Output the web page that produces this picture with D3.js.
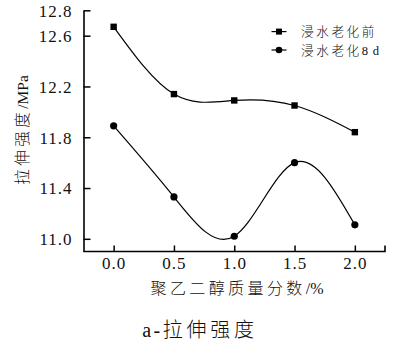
<!DOCTYPE html>
<html>
<head>
<meta charset="utf-8">
<script src="https://cdn.jsdelivr.net/npm/d3@7"></script>
<style>
  html, body { margin: 0; padding: 0; background: #fff; }
  svg { display: block; }
  text { font-family: "Liberation Serif", "Noto Sans CJK SC", serif; fill: #111; }
  .cjk { font-family: "Noto Sans CJK SC", sans-serif; font-weight: 300; }
  .lat { font-family: "Liberation Serif", serif; }
</style>
</head>
<body>
<svg id="chart" width="412" height="358"></svg>
<script>
// ---- data ----
const categories = [0.0, 0.5, 1.0, 1.5, 2.0];
const seriesNames = ["浸水老化前", "浸水老化8 d"];
const seriesBefore = [12.67, 12.14, 12.09, 12.05, 11.84];
const seriesAfter8d = [11.89, 11.33, 11.02, 11.60, 11.11];
const xTickValues = [0.0, 0.5, 1.0, 1.5, 2.0];
const xTickLabels = ["0.0", "0.5", "1.0", "1.5", "2.0"];
const yTickValues = [11.0, 11.4, 11.8, 12.2, 12.6, 12.8];
const yTickLabels = ["11.0", "11.4", "11.8", "12.2", "12.6", "12.8"];
const xTitle = "聚乙二醇质量分数/%";
const yTitle = "拉伸强度/MPa";
const caption = "a-拉伸强度";

// ---- helpers ----
// split text into CJK / Latin runs, with letter spacing only for CJK runs
function richText(sel, str, cjkSpacing, latSpacing) {
  const runs = str.match(/[\u3000-\u9fff]+|[^\u3000-\u9fff]+/g) || [];
  runs.forEach(r => {
    const isCjk = /[\u3000-\u9fff]/.test(r);
    sel.append("tspan").attr("class", isCjk ? "cjk" : "lat")
      .style("letter-spacing", (isCjk ? cjkSpacing : latSpacing) + "px").text(r);
  });
  return sel;
}

// ---- layout ----
const svg = d3.select("#chart");
const x = d3.scaleLinear().domain([-0.25, 2.25]).range([83.5, 385]);
const y = d3.scaleLinear().domain([10.9, 12.8]).range([251.5, 10.3]);

// axes
const xAxis = d3.axisBottom(x).tickValues(xTickValues)
  .tickFormat((d, i) => xTickLabels[i]).tickSizeInner(-6).tickSizeOuter(-6).tickPadding(5);
const yAxis = d3.axisLeft(y).tickValues(yTickValues)
  .tickFormat((d, i) => yTickLabels[i]).tickSizeInner(-7).tickSizeOuter(0).tickPadding(11);

const gx = svg.append("g").attr("transform", `translate(0,${y.range()[0]})`).call(xAxis);
const gy = svg.append("g").attr("transform", `translate(${x.range()[0]},0)`).call(yAxis);

[gx, gy].forEach(g => {
  g.select(".domain").attr("stroke", "#000").attr("stroke-width", 1.6);
  g.selectAll(".tick line").attr("stroke", "#000").attr("stroke-width", 1.5);
  g.selectAll(".tick text").attr("fill", "#111")
    .style("font-family", "'Liberation Serif', serif").style("font-size", "17px")
    .style("letter-spacing", "1px");
});
gy.selectAll(".tick text").attr("dy", "0.34em");
gx.select(".domain").attr("d", `M${x.range()[0]},0H${x.range()[1]}V-6`);

// lines
const line = d3.line().x((d, i) => x(categories[i])).y(d => y(d)).curve(d3.curveNatural);
svg.append("path").datum(seriesBefore).attr("d", line)
  .attr("fill", "none").attr("stroke", "#000").attr("stroke-width", 1.2);
svg.append("path").datum(seriesAfter8d).attr("d", line)
  .attr("fill", "none").attr("stroke", "#000").attr("stroke-width", 1.2);

// markers
svg.append("g").selectAll("rect").data(seriesBefore).join("rect")
  .attr("x", (d, i) => x(categories[i]) - 3.2).attr("y", d => y(d) - 3.2)
  .attr("width", 6.4).attr("height", 6.4).attr("fill", "#000");
svg.append("g").selectAll("circle").data(seriesAfter8d).join("circle")
  .attr("cx", (d, i) => x(categories[i])).attr("cy", d => y(d))
  .attr("r", 3.6).attr("fill", "#000");

// legend
const legend = svg.append("g");
const legY = [31.6, 50];
seriesNames.forEach((name, i) => {
  legend.append("line").attr("x1", 271.5).attr("x2", 286.5)
    .attr("y1", legY[i]).attr("y2", legY[i]).attr("stroke", "#000").attr("stroke-width", 1.2);
  if (i === 0) {
    legend.append("rect").attr("x", 279 - 3).attr("y", legY[i] - 3)
      .attr("width", 6).attr("height", 6).attr("fill", "#000");
  } else {
    legend.append("circle").attr("cx", 279).attr("cy", legY[i]).attr("r", 3.3).attr("fill", "#000");
  }
  const t = legend.append("text").attr("x", 301).attr("y", legY[i]).attr("dy", "0.36em")
    .style("font-size", "12.6px");
  richText(t, name, 2.6, 0.8);
});

// axis titles
const xt = svg.append("text").attr("x", 237).attr("y", 288).attr("dy", "0.36em")
  .attr("text-anchor", "middle").style("font-size", "16px");
richText(xt, xTitle, 3.4, 0);
const yt = svg.append("text").attr("transform", "translate(22,130) rotate(-90)").attr("dy", "0.36em")
  .attr("text-anchor", "middle").style("font-size", "15.5px");
richText(yt, yTitle, 3.5, 0);

// caption
const ct = svg.append("text").attr("x", 200).attr("y", 330).attr("dy", "0.36em")
  .attr("text-anchor", "middle").style("font-size", "20px");
richText(ct, caption, 3.8, 2.5);
</script>
</body>
</html>
